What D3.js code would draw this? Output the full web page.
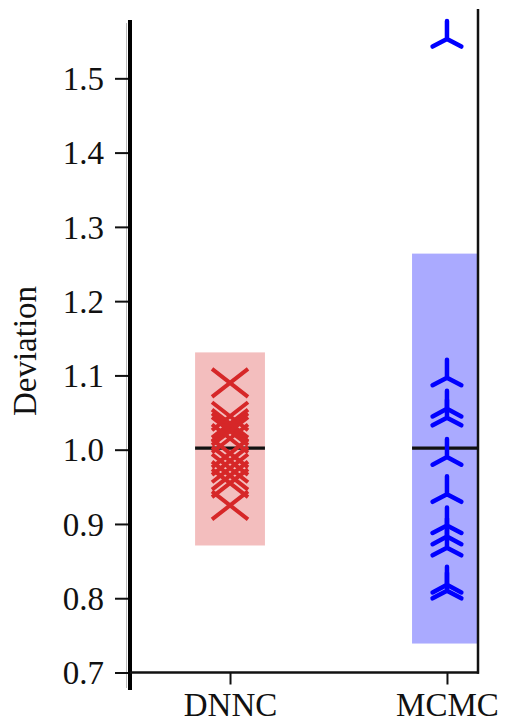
<!DOCTYPE html>
<html><head><meta charset="utf-8">
<script src="https://cdn.jsdelivr.net/npm/d3@7"></script>
<style>html,body{margin:0;padding:0;background:#fff;}svg{display:block;}</style>
</head><body>
<script>
const categories = ["DNNC", "MCMC"];
const dnncValues = [1.09, 1.045, 1.035, 1.03, 1.025, 1.015, 0.995, 0.985, 0.975, 0.965, 0.955, 0.925];
const mcmcValues = [1.553, 1.097, 1.055, 1.043, 0.99, 0.94, 0.898, 0.883, 0.868, 0.818, 0.81];
const bandLower = [0.871, 0.739];
const bandUpper = [1.131, 1.264];
const centerLine = [1.002, 1.002];
const yTicks = [0.7, 0.8, 0.9, 1.0, 1.1, 1.2, 1.3, 1.4, 1.5];
const yLabel = "Deviation";

const W = 508, H = 725;
const svg = d3.select("body").append("svg").attr("width", W).attr("height", H);

const x = d3.scaleLinear().domain([-0.461, 1.143]).range([130, 478]);
const y = d3.scaleLinear().domain([0.7, 1.592]).range([672.5, 10]);

const font = "Liberation Serif, DejaVu Serif, Times New Roman, serif";
svg.append("clipPath").attr("id", "plotclip").append("rect")
  .attr("x", x(-0.461)).attr("y", 0).attr("width", x(1.143) - x(-0.461)).attr("height", y(0.7));

const plot = svg.append("g").attr("clip-path", "url(#plotclip)");
const fills = ["#f3bebe", "#aaaaff"];
const halfW = 0.161;
plot.selectAll("rect.band").data(categories).enter().append("rect")
  .attr("class", "band")
  .attr("x", (d, i) => x(i - halfW))
  .attr("width", (d, i) => x(i + halfW) - x(i - halfW))
  .attr("y", (d, i) => y(bandUpper[i]))
  .attr("height", (d, i) => y(bandLower[i]) - y(bandUpper[i]))
  .attr("fill", (d, i) => fills[i]);

plot.selectAll("line.center").data(categories).enter().append("line")
  .attr("x1", (d, i) => x(i - halfW)).attr("x2", (d, i) => x(i + halfW))
  .attr("y1", (d, i) => y(centerLine[i])).attr("y2", (d, i) => y(centerLine[i]))
  .attr("stroke", "#111").attr("stroke-width", 3.2);

// X markers for DNNC
const xw = 18, xh = 14;
plot.selectAll("path.xm").data(dnncValues).enter().append("path")
  .attr("d", v => {
    const cx = x(0), cy = y(v);
    return `M${cx - xw},${cy - xh}L${cx + xw},${cy + xh}M${cx - xw},${cy + xh}L${cx + xw},${cy - xh}`;
  })
  .attr("stroke", "#d62728").attr("stroke-width", 4).attr("fill", "none");

// tri markers for MCMC
const r = 18;
plot.selectAll("path.tri").data(mcmcValues).enter().append("path")
  .attr("d", v => {
    const cx = x(1), cy = y(v);
    return `M${cx},${cy}L${cx},${cy - r}M${cx},${cy}L${cx - 0.8 * r},${cy + 0.42 * r}M${cx},${cy}L${cx + 0.8 * r},${cy + 0.42 * r}`;
  })
  .attr("stroke", "#0000ff").attr("stroke-width", 4.5).attr("fill", "none").attr("stroke-linecap", "round");

// spines
svg.append("line").attr("x1", 126.5).attr("x2", 126.5).attr("y1", 23).attr("y2", 688)
  .attr("stroke", "#bbb").attr("stroke-width", 1);
svg.append("line").attr("x1", 130).attr("x2", 130).attr("y1", 20).attr("y2", 690)
  .attr("stroke", "#000").attr("stroke-width", 4);
svg.append("line").attr("x1", 478).attr("x2", 478).attr("y1", 9).attr("y2", 673.7)
  .attr("stroke", "#111").attr("stroke-width", 2.5);
svg.append("line").attr("x1", 130).attr("x2", 479).attr("y1", 672.5).attr("y2", 672.5)
  .attr("stroke", "#111").attr("stroke-width", 2.5);

// y axis
const yAxis = d3.axisLeft(y).tickValues(yTicks).tickSize(13).tickPadding(11).tickFormat(d3.format(".1f"));
const gy = svg.append("g").attr("transform", "translate(128,0)").call(yAxis);
gy.select(".domain").remove();
gy.selectAll(".tick line").attr("stroke", "#111").attr("stroke-width", 2);
gy.selectAll(".tick text").attr("font-family", font).attr("font-size", 33).attr("fill", "#111").attr("dy", "0.34em");

// x axis
const xAxis = d3.axisBottom(x).tickValues([0, 1]).tickSize(12).tickPadding(12).tickFormat(i => categories[i]);
const gx = svg.append("g").attr("transform", "translate(0,672.5)").call(xAxis);
gx.select(".domain").remove();
gx.selectAll(".tick line").attr("stroke", "#111").attr("stroke-width", 2);
gx.selectAll(".tick text").attr("font-family", font).attr("font-size", 33).attr("fill", "#111").attr("dy", "0.6em");

svg.append("text").attr("transform", "translate(36,351) rotate(-90)")
  .attr("text-anchor", "middle").attr("font-family", font).attr("font-size", 33).attr("fill", "#111")
  .text(yLabel);
</script>
</body></html>
